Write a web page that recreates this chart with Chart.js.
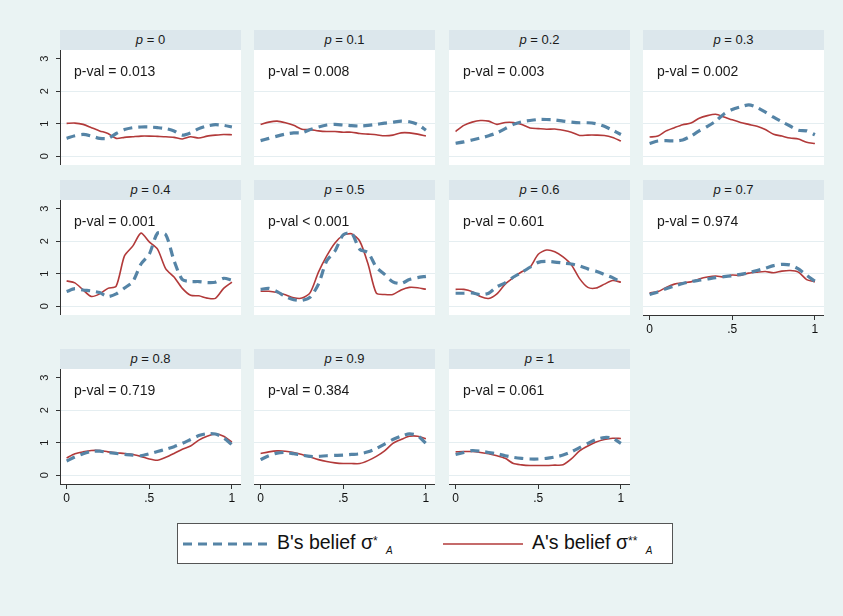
<!DOCTYPE html>
<html>
<head>
<meta charset="utf-8">
<script src="https://cdn.jsdelivr.net/npm/chart.js@4.4.1/dist/chart.umd.min.js"></script>
<style>
body { margin: 0; background: #eaf3f3; font-family: "Liberation Sans", Arial, sans-serif; }
#wrap { position: relative; width: 843px; height: 616px; overflow: hidden; }
.hdr { position: absolute; height: 20px; background: #dce7ec; text-align: center; font-size: 13px; line-height: 20px; color: #1a1a1a; }
canvas { position: absolute; }
#legend { position: absolute; left: 177px; top: 523px; width: 494px; height: 39px; background: #fff; border: 1px solid #555; }
.lt { position: absolute; top: 7px; font-size: 19.5px; color: #111; white-space: nowrap; }
.st { font-size: 12px; position: relative; top: -4px; }
.sb { font-size: 10px; font-style: italic; position: relative; top: 5px; margin-left: 3px; }
</style>
</head>
<body>
<div id="wrap">
  <div id="legend">
    <svg width="494" height="39" style="position:absolute;left:0;top:0">
      <line x1="5" y1="20" x2="90" y2="20" stroke="#5584a6" stroke-width="3.2" stroke-dasharray="9 6"/>
      <line x1="265" y1="20" x2="345" y2="20" stroke="#b23a3a" stroke-width="1.6"/>
    </svg>
    <div class="lt" style="left:99px">B's belief σ<span class="st">*</span> <span class="sb">A</span></div>
    <div class="lt" style="left:354px">A's belief σ<span class="st">**</span> <span class="sb">A</span></div>
  </div>
</div>
<script>
// grid of x values (share of choices), same for every panel
var xs = [0, 0.05, 0.1, 0.15, 0.2, 0.25, 0.3, 0.35, 0.4, 0.45, 0.5, 0.55, 0.6, 0.65, 0.7, 0.75, 0.8, 0.85, 0.9, 0.95, 1];
var xTicks = [0, 0.5, 1];
var xTickLabels = ["0", ".5", "1"];
var yTicks = [0, 1, 2, 3];

var pLabels = ["0", "0.1", "0.2", "0.3", "0.4", "0.5", "0.6", "0.7", "0.8", "0.9", "1"];
var pvals = ["= 0.013", "= 0.008", "= 0.003", "= 0.002", "= 0.001", "< 0.001", "= 0.601", "= 0.974", "= 0.719", "= 0.384", "= 0.061"];

// B's belief (dashed) and A's belief (solid) for each p
var B_p00 = [0.55,0.63,0.67,0.62,0.55,0.55,0.7,0.82,0.88,0.9,0.9,0.88,0.85,0.78,0.65,0.72,0.85,0.93,0.97,0.95,0.9];
var A_p00 = [1.01,1.02,0.98,0.88,0.78,0.7,0.55,0.58,0.6,0.62,0.62,0.61,0.6,0.58,0.53,0.6,0.56,0.62,0.65,0.67,0.66];
var B_p01 = [0.48,0.55,0.62,0.68,0.72,0.72,0.82,0.9,0.96,0.98,0.96,0.94,0.93,0.95,0.98,1.02,1.05,1.08,1.06,0.98,0.8];
var A_p01 = [0.98,1.05,1.08,1.03,0.95,0.83,0.82,0.78,0.76,0.76,0.74,0.74,0.7,0.68,0.66,0.63,0.65,0.72,0.72,0.68,0.62];
var B_p02 = [0.4,0.44,0.5,0.56,0.63,0.72,0.85,0.98,1.06,1.1,1.13,1.13,1.12,1.08,1.05,1.03,1.03,1.0,0.92,0.8,0.67];
var A_p02 = [0.76,0.95,1.05,1.1,1.08,0.98,1.04,1.04,0.98,0.87,0.85,0.83,0.84,0.8,0.74,0.64,0.65,0.65,0.64,0.58,0.47];
var B_p03 = [0.39,0.47,0.48,0.47,0.5,0.62,0.78,0.92,1.08,1.3,1.44,1.52,1.58,1.5,1.36,1.2,1.06,0.93,0.8,0.78,0.66];
var A_p03 = [0.59,0.62,0.78,0.88,0.97,1.02,1.17,1.25,1.29,1.21,1.12,1.04,0.98,0.92,0.82,0.68,0.62,0.56,0.53,0.43,0.39];
var B_p04 = [0.45,0.54,0.5,0.47,0.42,0.3,0.38,0.56,0.75,1.3,1.6,2.25,2.2,1.4,0.82,0.76,0.76,0.73,0.74,0.86,0.8];
var A_p04 = [0.78,0.72,0.5,0.3,0.38,0.55,0.62,1.55,1.85,2.25,1.98,1.76,1.15,0.9,0.55,0.34,0.32,0.25,0.24,0.55,0.74];
var B_p05 = [0.52,0.55,0.45,0.3,0.2,0.18,0.28,0.68,1.4,1.7,2.2,2.25,1.75,1.65,1.2,0.98,0.75,0.7,0.82,0.88,0.92];
var A_p05 = [0.46,0.46,0.42,0.35,0.26,0.25,0.42,1.05,1.55,1.95,2.18,2.23,2.0,1.3,0.4,0.36,0.36,0.5,0.58,0.57,0.52];
var B_p06 = [0.4,0.4,0.41,0.36,0.4,0.6,0.72,0.9,1.04,1.2,1.35,1.38,1.36,1.33,1.3,1.24,1.15,1.08,0.98,0.88,0.74];
var A_p06 = [0.52,0.52,0.45,0.3,0.24,0.38,0.68,0.88,1.06,1.2,1.6,1.73,1.68,1.52,1.28,0.85,0.58,0.56,0.68,0.79,0.74];
var B_p07 = [0.36,0.44,0.54,0.62,0.7,0.76,0.8,0.84,0.88,0.91,0.94,0.98,1.03,1.1,1.17,1.25,1.29,1.27,1.15,0.95,0.77];
var A_p07 = [0.41,0.45,0.58,0.68,0.72,0.75,0.84,0.9,0.93,0.9,0.96,0.95,1.02,1.05,1.07,1.03,1.08,1.1,1.05,0.82,0.75];
var B_p08 = [0.44,0.56,0.66,0.73,0.74,0.7,0.67,0.64,0.62,0.6,0.66,0.73,0.8,0.88,0.98,1.1,1.22,1.28,1.27,1.15,0.94];
var A_p08 = [0.53,0.66,0.72,0.76,0.76,0.72,0.69,0.67,0.64,0.58,0.5,0.46,0.55,0.67,0.8,0.9,1.08,1.2,1.27,1.2,1.02];
var B_p09 = [0.48,0.6,0.68,0.7,0.66,0.62,0.58,0.58,0.6,0.61,0.62,0.64,0.66,0.72,0.82,0.96,1.1,1.2,1.27,1.22,0.98];
var A_p09 = [0.67,0.72,0.75,0.74,0.7,0.64,0.56,0.48,0.42,0.38,0.36,0.36,0.36,0.45,0.58,0.75,0.98,1.1,1.2,1.2,1.12];
var B_p10 = [0.64,0.7,0.76,0.74,0.7,0.66,0.6,0.55,0.52,0.5,0.5,0.52,0.56,0.62,0.72,0.85,0.98,1.1,1.16,1.14,0.98];
var A_p10 = [0.72,0.73,0.73,0.7,0.66,0.6,0.52,0.36,0.32,0.3,0.3,0.3,0.31,0.32,0.5,0.75,0.9,1.02,1.1,1.14,1.13];

var seriesB = [B_p00, B_p01, B_p02, B_p03, B_p04, B_p05, B_p06, B_p07, B_p08, B_p09, B_p10];
var seriesA = [A_p00, A_p01, A_p02, A_p03, A_p04, A_p05, A_p06, A_p07, A_p08, A_p09, A_p10];

// layout of the 4x3 grid
var colLeft = [60, 254, 449, 643];
var rowTop = [30, 180, 349];
var plotW = 181, plotH = 115, hdrH = 20, yAxisW = 26, xAxisH = 28;
var FONT = "'Liberation Sans', Arial, sans-serif";

// white plot region, p-value text and the rotated y labels
var panelDeco = {
  id: "panelDeco",
  beforeDraw: function (chart) {
    var a = chart.chartArea, c = chart.ctx;
    c.save();
    c.fillStyle = "#ffffff";
    c.fillRect(a.left, a.top, a.right - a.left, a.bottom - a.top);
    c.restore();
  },
  afterDraw: function (chart, args, opts) {
    var a = chart.chartArea, c = chart.ctx;
    c.save();
    c.fillStyle = "#1a1a1a";
    c.font = "14px " + FONT;
    c.textBaseline = "middle";
    c.textAlign = "left";
    c.fillText("p-val " + opts.pval, a.left + 14, a.top + 22);
    if (opts.yLabels) {
      var ys = chart.scales.y;
      c.font = "11px " + FONT;
      c.textAlign = "center";
      yTicks.forEach(function (v) {
        var py = ys.getPixelForValue(v);
        c.save();
        c.translate(a.left - 15, py);
        c.rotate(-Math.PI / 2);
        c.fillText(String(v), 0, 0);
        c.restore();
      });
    }
    c.restore();
  }
};

var wrap = document.getElementById("wrap");

pLabels.forEach(function (lab, i) {
  var row = Math.floor(i / 4), col = i % 4;
  var hasX = row === 2 || i === 7;
  var left = colLeft[col], top = rowTop[row];

  var hdr = document.createElement("div");
  hdr.className = "hdr";
  hdr.style.left = left + "px";
  hdr.style.top = top + "px";
  hdr.style.width = plotW + "px";
  hdr.innerHTML = "<i>p</i> = " + lab;
  wrap.appendChild(hdr);

  var extraL = col === 0 ? yAxisW : 0;
  var extraB = hasX ? xAxisH : 0;
  var cw = plotW + extraL, ch = plotH + extraB;
  var cv = document.createElement("canvas");
  cv.width = cw; cv.height = ch;
  cv.style.width = cw + "px"; cv.style.height = ch + "px";
  cv.style.left = (left - extraL) + "px";
  cv.style.top = (top + hdrH) + "px";
  wrap.appendChild(cv);

  new Chart(cv, {
    type: "line",
    data: {
      datasets: [{
        label: "B's belief",
        data: xs.map(function (x, k) { return { x: x, y: seriesB[i][k] }; }),
        borderColor: "#5584a6",
        borderWidth: 3.2,
        borderDash: [9, 6],
        pointRadius: 0,
        tension: 0.25,
        fill: false
      }, {
        label: "A's belief",
        data: xs.map(function (x, k) { return { x: x, y: seriesA[i][k] }; }),
        borderColor: "#b23a3a",
        borderWidth: 1.6,
        pointRadius: 0,
        tension: 0.25,
        fill: false
      }]
    },
    options: {
      responsive: false,
      animation: false,
      events: [],
      layout: { padding: 0 },
      plugins: {
        legend: { display: false },
        tooltip: { enabled: false },
        panelDeco: { pval: pvals[i], yLabels: col === 0 }
      },
      scales: {
        x: {
          type: "linear",
          min: -0.04, max: 1.055,
          display: hasX,
          afterFit: function (s) { s.height = extraB; },
          afterBuildTicks: function (s) { s.ticks = xTicks.map(function (v) { return { value: v }; }); },
          ticks: {
            callback: function (v) { return xTickLabels[xTicks.indexOf(v)]; },
            font: { size: 12, family: FONT },
            color: "#111",
            padding: 2,
            maxRotation: 0,
            autoSkip: false
          },
          grid: { drawOnChartArea: false, tickLength: 5, tickColor: "#333" },
          border: { color: "#333" }
        },
        y: {
          min: -0.27, max: 3.27,
          afterFit: function (s) { s.width = extraL; },
          afterBuildTicks: function (s) { s.ticks = yTicks.map(function (v) { return { value: v }; }); },
          ticks: { display: false },
          grid: {
            color: function (ctx) { return ctx.tick && ctx.tick.value === 3 ? "rgba(0,0,0,0)" : "#e5eef1"; },
            drawTicks: col === 0,
            tickLength: 4,
            tickColor: "#333"
          },
          border: { display: col === 0, color: "#333" }
        }
      }
    },
    plugins: [panelDeco]
  });
});
</script>
</body>
</html>
